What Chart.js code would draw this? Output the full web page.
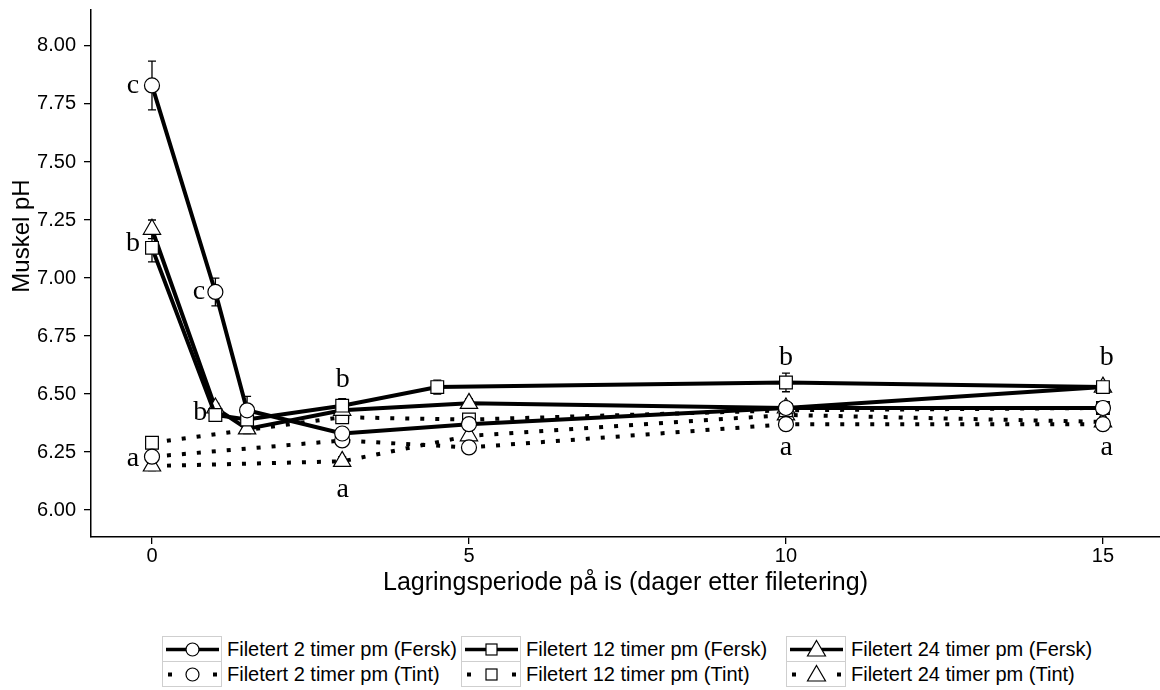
<!DOCTYPE html>
<html>
<head>
<meta charset="utf-8">
<script src="https://cdn.jsdelivr.net/npm/chart.js@4.4.0/dist/chart.umd.min.js"></script>
<style>
  body { margin: 0; background: #fff; font-family: 'Liberation Sans', Arial, sans-serif; }
  #wrap { position: relative; width: 1160px; height: 690px; }
  #chart { position: absolute; left: 0; top: 0; }
  #legend { position: absolute; left: 162px; top: 636px; border-collapse: collapse; }
  #legend td { padding: 0; height: 23px; font-size: 20px; color: #000; white-space: nowrap; line-height: 23px; }
  #legend td.box { width: 58px; border: 1px solid #cfcfcf; text-align: center; }
  #legend td.box svg { display: block; }
  #legend td.txt { padding-left: 5px; }
  #legend td.t1 { width: 234px; }
  #legend td.t2 { width: 260px; }
</style>
</head>
<body>
<div id="wrap">
  <canvas id="chart" width="1160" height="630"></canvas>
  <table id="legend"></table>
</div>
<script>
// dager paa is
const xFersk2 = [0, 1, 1.5, 3, 5, 10, 15];
const xFersk12 = [0, 1, 1.5, 3, 4.5, 10, 15];
const xFersk24 = [0, 1, 1.5, 3, 5, 10, 15];
const xTint = [0, 3, 5, 10, 15];

// muskel pH
const fersk2 = [7.83, 6.94, 6.43, 6.33, 6.37, 6.44, 6.44];
const fersk12 = [7.13, 6.41, 6.39, 6.45, 6.53, 6.55, 6.53];
const fersk24 = [7.21, 6.44, 6.35, 6.43, 6.46, 6.44, 6.53];
const tint2 = [6.23, 6.30, 6.27, 6.37, 6.37];
const tint12 = [6.29, 6.40, 6.39, 6.43, 6.44];
const tint24 = [6.19, 6.21, 6.32, 6.41, 6.38];

// standardfeil
const fersk2Err = [0.105, 0.06, 0.06, 0.02, 0.02, 0.02, 0.02];
const fersk12Err = [0.06, 0.02, 0.02, 0.03, 0.03, 0.04, 0.02];
const fersk24Err = [0.04, 0.02, 0.02, 0.02, 0.02, 0.02, 0.02];
const tintErr = [0.02, 0.02, 0.02, 0.02, 0.02];

const seriesNames = [
  'Filetert 2 timer pm (Fersk)', 'Filetert 12 timer pm (Fersk)', 'Filetert 24 timer pm (Fersk)',
  'Filetert 2 timer pm (Tint)', 'Filetert 12 timer pm (Tint)', 'Filetert 24 timer pm (Tint)'
];

const xTicks = [0, 5, 10, 15];
const yTicks = [6.00, 6.25, 6.50, 6.75, 7.00, 7.25, 7.50, 7.75, 8.00];
const xTitle = 'Lagringsperiode på is (dager etter filetering)';
const yTitle = 'Muskel pH';

// signifikansbokstaver [x, y, tekst]
const letters = [
  [-0.30, 7.83, 'c'], [-0.30, 7.15, 'b'], [-0.30, 6.22, 'a'],
  [0.74, 6.94, 'c'], [0.76, 6.42, 'b'],
  [3.01, 6.56, 'b'], [3.01, 6.09, 'a'],
  [10, 6.655, 'b'], [10, 6.27, 'a'],
  [15.06, 6.655, 'b'], [15.06, 6.27, 'a']
];

const FONT = "'Liberation Sans', Arial, sans-serif";

function pts(xs, ys) {
  return xs.map((x, i) => ({ x: x, y: ys[i] }));
}

const styles = [
  { shape: 'circle', r: 7.5 },
  { shape: 'rect', r: 9 },
  { shape: 'triangle', r: 10 }
];

function makeSet(i, xs, ys, err, dotted) {
  const st = styles[i % 3];
  return {
    label: seriesNames[i],
    data: pts(xs, ys),
    err: err,
    borderColor: '#000',
    borderWidth: 4,
    borderDash: dotted ? [4, 11] : [],
    borderCapStyle: 'butt',
    pointStyle: st.shape,
    pointRadius: st.r,
    pointHoverRadius: st.r,
    pointBackgroundColor: '#fff',
    pointBorderColor: '#000',
    pointBorderWidth: 1.2,
    tension: 0,
    fill: false
  };
}

const extras = {
  id: 'extras',
  beforeDatasetsDraw(chart) {
    const ctx = chart.ctx;
    const xs = chart.scales.x, ys = chart.scales.y;
    ctx.save();
    ctx.strokeStyle = '#000';
    ctx.lineWidth = 1.3;
    chart.data.datasets.forEach(ds => {
      ds.data.forEach((p, i) => {
        const e = ds.err[i];
        const px = xs.getPixelForValue(p.x);
        const top = ys.getPixelForValue(p.y + e);
        const bot = ys.getPixelForValue(p.y - e);
        ctx.beginPath();
        ctx.moveTo(px, top); ctx.lineTo(px, bot);
        ctx.moveTo(px - 4, top); ctx.lineTo(px + 4, top);
        ctx.moveTo(px - 4, bot); ctx.lineTo(px + 4, bot);
        ctx.stroke();
      });
    });
    ctx.restore();
  },
  afterDatasetsDraw(chart) {
    const ctx = chart.ctx;
    const xs = chart.scales.x, ys = chart.scales.y;
    ctx.save();
    ctx.fillStyle = '#000';
    ctx.font = "28px 'Liberation Serif', 'Times New Roman', serif";
    ctx.textAlign = 'center';
    ctx.textBaseline = 'middle';
    letters.forEach(l => {
      ctx.fillText(l[2], xs.getPixelForValue(l[0]), ys.getPixelForValue(l[1]));
    });
    ctx.restore();
  },
  afterDraw(chart) {
    const ctx = chart.ctx;
    ctx.save();
    ctx.fillStyle = '#000';
    ctx.font = '24px ' + FONT;
    ctx.textAlign = 'center';
    ctx.textBaseline = 'middle';
    ctx.translate(22, 236);
    ctx.rotate(-Math.PI / 2);
    ctx.fillText(yTitle, 0, 0);
    ctx.restore();
  }
};

new Chart(document.getElementById('chart'), {
  type: 'line',
  data: {
    datasets: [
      makeSet(0, xFersk2, fersk2, fersk2Err, false),
      makeSet(1, xFersk12, fersk12, fersk12Err, false),
      makeSet(2, xFersk24, fersk24, fersk24Err, false),
      makeSet(3, xTint, tint2, tintErr, true),
      makeSet(4, xTint, tint12, tintErr, true),
      makeSet(5, xTint, tint24, tintErr, true)
    ]
  },
  options: {
    responsive: false,
    animation: false,
    devicePixelRatio: 1,
    layout: { autoPadding: false, padding: { top: 10, right: 0, bottom: 0, left: 0 } },
    plugins: {
      legend: { display: false },
      tooltip: { enabled: false }
    },
    scales: {
      x: {
        type: 'linear',
        min: -0.962,
        max: 15.9,
        afterBuildTicks: s => { s.ticks = xTicks.map(v => ({ value: v })); },
        afterFit: s => { s.height = 93; s.paddingLeft = 0; s.paddingRight = 0; },
        grid: { drawOnChartArea: false, tickLength: 7, color: '#000', lineWidth: 1.3 },
        border: { color: '#000', width: 1.5 },
        ticks: { color: '#000', font: { family: FONT, size: 20 }, padding: 0, maxRotation: 0 },
        title: { display: true, text: xTitle, color: '#000', font: { family: FONT, size: 25 }, padding: { top: 0, bottom: 32 } }
      },
      y: {
        type: 'linear',
        min: 5.884,
        max: 8.155,
        afterBuildTicks: s => { s.ticks = yTicks.map(v => ({ value: v })); },
        afterFit: s => { s.width = 91; s.paddingTop = 0; s.paddingBottom = 0; },
        grid: { drawOnChartArea: false, tickLength: 7, color: '#000', lineWidth: 1.3 },
        border: { color: '#000', width: 1.5 },
        ticks: { color: '#000', font: { family: FONT, size: 20 }, padding: 8, callback: v => v.toFixed(2) }
      }
    }
  },
  plugins: [extras]
});

// forklaring
function sample(i) {
  const dotted = i >= 3;
  const shape = styles[i % 3].shape;
  let line = dotted
    ? '<rect x="5" y="10.5" width="4" height="4" fill="#000"/><rect x="50" y="10.5" width="4" height="4" fill="#000"/>'
    : '<line x1="3" y1="12.5" x2="56" y2="12.5" stroke="#000" stroke-width="3.5"/>';
  let mark;
  if (shape === 'circle') mark = '<circle cx="29.5" cy="12.5" r="6.5" fill="#fff" stroke="#000" stroke-width="1.2"/>';
  else if (shape === 'rect') mark = '<rect x="24" y="7" width="11" height="11" fill="#fff" stroke="#000" stroke-width="1.2"/>';
  else mark = '<polygon points="29.5,3.5 38.5,19 20.5,19" fill="#fff" stroke="#000" stroke-width="1.2"/>';
  return '<svg width="58" height="24" viewBox="0 0 58 24">' + line + mark + '</svg>';
}

const leg = document.getElementById('legend');
let html = '';
for (let r = 0; r < 2; r++) {
  html += '<tr>';
  for (let c = 0; c < 3; c++) {
    const i = r * 3 + c;
    const cls = c === 0 ? 'txt t1' : (c === 1 ? 'txt t2' : 'txt');
    html += '<td class="box">' + sample(i) + '</td><td class="' + cls + '">' + seriesNames[i] + '</td>';
  }
  html += '</tr>';
}
leg.innerHTML = html;
</script>
</body>
</html>
